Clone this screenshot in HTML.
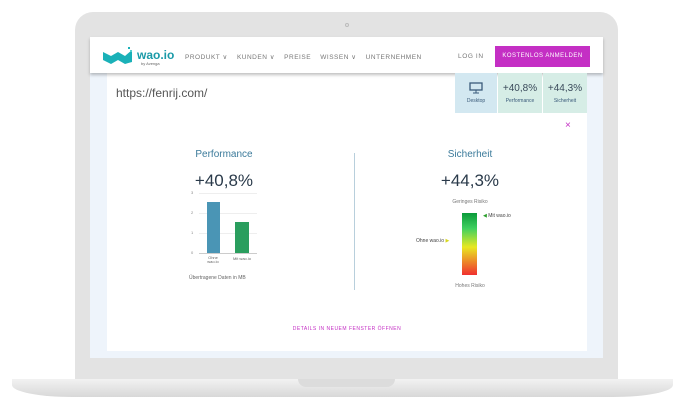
<!DOCTYPE html>
<html><head><meta charset="utf-8"><style>
*{margin:0;padding:0;box-sizing:border-box}
body{width:673px;height:410px;background:#fff;position:relative;overflow:hidden;font-family:"Liberation Sans",sans-serif}
.a{position:absolute}
.t{position:absolute;white-space:nowrap}
</style></head><body>
<div class="a" style="left:75px;top:12px;width:543px;height:368px;background:#e3e3e3;border-radius:18px 18px 0 0"></div>
<div class="a" style="left:345px;top:23px;width:4px;height:4px;border-radius:50%;border:1px solid #bbb"></div>
<div class="a" style="left:90px;top:37px;width:513px;height:321px;background:#eef4fb"></div>
<div class="a" style="left:107px;top:73px;width:480px;height:278px;background:#fff"></div>
<div class="a" style="left:90px;top:37px;width:513px;height:36px;background:#fff;box-shadow:0 2px 3px rgba(0,0,0,.25)"></div>
<svg class="a" style="left:103px;top:46px" width="32" height="20"><polygon points="0,6 8,10 15,6 22,10 29,4 29,16 22,18 15,14 8,18 0,14" fill="#1ab1b8"/><rect x="25" y="1" width="2" height="2" fill="#1ab1b8"/><rect x="27" y="4" width="2" height="2" fill="#56d0d0"/></svg>
<div class="t" style="left:137px;top:48px;font-size:12px;color:#1a9aa8;font-weight:bold">wao.io</div>
<div class="t" style="left:141px;top:61px;font-size:4px;color:#666">by Avenga</div>
<div class="t" style="left:185px;top:53px;font-size:6.5px;color:#777;letter-spacing:.5px">PRODUKT ∨&nbsp;&nbsp;&nbsp; KUNDEN ∨&nbsp;&nbsp;&nbsp; PREISE&nbsp;&nbsp;&nbsp; WISSEN ∨&nbsp;&nbsp;&nbsp; UNTERNEHMEN</div>
<div class="t" style="left:458px;top:53px;font-size:6.5px;color:#777;letter-spacing:.6px">LOG IN</div>
<div class="a" style="left:495px;top:46px;width:95px;height:21px;background:#c42fc4"></div>
<div class="t" style="left:495px;top:53px;width:95px;text-align:center;font-size:6px;color:#fff;letter-spacing:.5px">KOSTENLOS ANMELDEN</div>
<div class="t" style="left:116px;top:86px;font-size:12px;color:#555">https://fenrij.com/</div>
<div class="a" style="left:455px;top:73px;width:42px;height:40px;background:#d3e8f1"></div>
<div class="a" style="left:498px;top:73px;width:44px;height:40px;background:#d6ede6"></div>
<div class="a" style="left:543px;top:73px;width:44px;height:40px;background:#d6ede6"></div>
<svg class="a" style="left:469px;top:82px" width="14" height="12"><rect x="1" y="1" width="12" height="7" fill="none" stroke="#3a5a7a" stroke-width="1.3"/><line x1="7" y1="8" x2="7" y2="11" stroke="#3a5a7a"/><line x1="4" y1="11" x2="10" y2="11" stroke="#3a5a7a"/></svg>
<div class="t" style="left:455px;top:98px;width:42px;text-align:center;font-size:5px;color:#3a5a7a">Desktop</div>
<div class="t" style="left:498px;top:83px;width:44px;text-align:center;font-size:10px;color:#3a4a5a">+40,8%</div>
<div class="t" style="left:498px;top:98px;width:44px;text-align:center;font-size:5px;color:#3a5a7a">Performance</div>
<div class="t" style="left:543px;top:83px;width:44px;text-align:center;font-size:10px;color:#3a4a5a">+44,3%</div>
<div class="t" style="left:543px;top:98px;width:44px;text-align:center;font-size:5px;color:#3a5a7a">Sicherheit</div>
<div class="t" style="left:565px;top:120px;font-size:10px;color:#c42fc4">×</div>
<div class="t" style="left:174px;top:149px;width:100px;text-align:center;font-size:10px;color:#3b7a9a">Performance</div>
<div class="t" style="left:174px;top:171px;width:100px;text-align:center;font-size:17px;color:#2a3a4a">+40,8%</div>
<div class="t" style="left:191px;top:190px;font-size:4px;color:#888">3</div>
<div class="t" style="left:191px;top:210px;font-size:4px;color:#888">2</div>
<div class="t" style="left:191px;top:230px;font-size:4px;color:#888">1</div>
<div class="t" style="left:191px;top:250px;font-size:4px;color:#888">0</div>
<div class="a" style="left:199px;top:193px;width:58px;height:1px;background:#eee"></div>
<div class="a" style="left:199px;top:213px;width:58px;height:1px;background:#eee"></div>
<div class="a" style="left:199px;top:233px;width:58px;height:1px;background:#eee"></div>
<div class="a" style="left:207px;top:202px;width:13px;height:51px;background:#4a95b5"></div>
<div class="a" style="left:235px;top:222px;width:14px;height:31px;background:#2a9e5e"></div>
<div class="a" style="left:199px;top:253px;width:58px;height:1px;background:#ccc"></div>
<div class="t" style="left:203px;top:256px;width:20px;text-align:center;font-size:4px;color:#666;line-height:4px">Ohne<br>wao.io</div>
<div class="t" style="left:230px;top:256px;width:24px;text-align:center;font-size:4px;color:#666">Mit wao.io</div>
<div class="t" style="left:189px;top:275px;font-size:5px;color:#666">Übertragene Daten in MB</div>
<div class="a" style="left:354px;top:153px;width:1px;height:137px;background:#b8cfdc"></div>
<div class="t" style="left:420px;top:149px;width:100px;text-align:center;font-size:10px;color:#3b7a9a">Sicherheit</div>
<div class="t" style="left:420px;top:171px;width:100px;text-align:center;font-size:17px;color:#2a3a4a">+44,3%</div>
<div class="t" style="left:420px;top:199px;width:100px;text-align:center;font-size:5px;color:#777">Geringes Risiko</div>
<div class="a" style="left:462px;top:213px;width:15px;height:62px;background:linear-gradient(#0a9a3a,#40d060 25%,#e8e820 55%,#f03030)"></div>
<div class="t" style="left:483px;top:213px;font-size:5px;color:#444"><span style="color:#2a9e2a">◀</span> Mit wao.io</div>
<div class="t" style="left:416px;top:238px;font-size:5px;color:#444">Ohne wao.io <span style="color:#d8d820">▶</span></div>
<div class="t" style="left:420px;top:283px;width:100px;text-align:center;font-size:5px;color:#777">Hohes Risiko</div>
<div class="t" style="left:250px;top:326px;width:194px;text-align:center;font-size:5px;color:#c42fc4;letter-spacing:.5px">DETAILS IN NEUEM FENSTER ÖFFNEN</div>
<div class="a" style="left:12px;top:379px;width:661px;height:18px;background:linear-gradient(#f2f2f2,#d8d8d8);border-radius:0 0 60px 60px/0 0 12px 12px"></div>
<div class="a" style="left:298px;top:379px;width:97px;height:8px;background:#dcdcdc;border-radius:0 0 8px 8px"></div>
</body></html>
